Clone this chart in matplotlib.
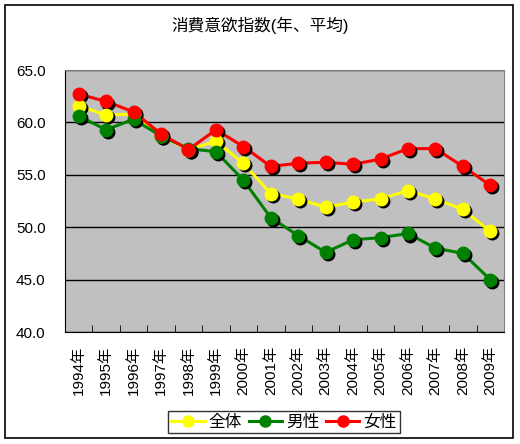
import matplotlib
matplotlib.use("Agg")
import matplotlib.pyplot as plt
import matplotlib.transforms as mtransforms
from matplotlib.patches import Rectangle

plt.rcParams['font.family'] = ['Liberation Sans', 'Noto Sans CJK JP', 'DejaVu Sans']

years = ["1994年", "1995年", "1996年", "1997年", "1998年", "1999年", "2000年", "2001年",
         "2002年", "2003年", "2004年", "2005年", "2006年", "2007年", "2008年", "2009年"]
zentai = [61.6, 60.7, 60.8, 58.7, 57.4, 58.2, 56.1, 53.2,
          52.7, 51.9, 52.4, 52.7, 53.5, 52.7, 51.7, 49.6]
dansei = [60.6, 59.3, 60.3, 58.7, 57.5, 57.2, 54.5, 50.9,
          49.2, 47.6, 48.8, 49.0, 49.4, 48.0, 47.5, 45.0]
josei = [62.7, 62.0, 61.0, 58.9, 57.4, 59.3, 57.7, 55.8,
         56.1, 56.2, 56.0, 56.5, 57.5, 57.5, 55.8, 54.0]
series_names = ["全体", "男性", "女性"]
series_colors = ["#ffff00", "#008000", "#ff0000"]
yticks = [40, 45, 50, 55, 60, 65]

fig = plt.figure(figsize=(5.2, 4.44), dpi=100)
W, H = 520, 444
ax = fig.add_axes([65 / W, 1 - 332 / H, (504 - 65) / W, (332 - 70) / H])
ax.set_facecolor("#c0c0c0")

# outer frame
fig.patches.append(Rectangle((5 / W, 1 - 438 / H), (513 - 5) / W, (438 - 5) / H,
                             transform=fig.transFigure, fill=False,
                             edgecolor="black", linewidth=1.2))

x = list(range(len(years)))
shadow = ax.transData + mtransforms.ScaledTranslation(1.5 / 72, -1.5 / 72, fig.dpi_scale_trans)
handles = []
for vals, name, col in zip([zentai, dansei, josei], series_names, series_colors):
    ax.plot(x, vals, color=col, linewidth=2.2, zorder=3)
    ax.plot(x, vals, linestyle="none", marker="o", markersize=9,
            color="black", transform=shadow, zorder=3)
    ax.plot(x, vals, linestyle="none", marker="o", markersize=9,
            color=col, zorder=4)
    h, = ax.plot([], [], color=col, linewidth=2.2, marker="o", markersize=8, label=name)
    handles.append(h)

ax.set_xlim(-0.5, len(years) - 0.5)
ax.set_ylim(40, 65)
ax.set_yticks(yticks)
ax.set_yticklabels([f"{v:.1f}" for v in yticks], fontsize=11)
ax.yaxis.grid(True, color="black", linewidth=1)
ax.set_axisbelow(True)

ax.set_xticks(x)
ax.set_xticklabels(years, rotation=90, fontsize=11)
ax.tick_params(axis="x", length=0, pad=10)
ax.set_xticks([i + 0.5 for i in x[:-1]], minor=True)
ax.tick_params(axis="x", which="minor", direction="in", length=5, color="black")
ax.tick_params(axis="y", length=0, pad=14)

ax.spines["top"].set_color("#808080")
ax.spines["right"].set_color("#808080")
ax.spines["left"].set_color("black")
ax.spines["bottom"].set_color("black")

fig.text(0.5, 1 - 25 / H, "消費意欲指数(年、平均)", ha="center", va="center", fontsize=12)

leg = fig.legend(handles=handles, loc="center", bbox_to_anchor=(284 / W, 1 - 422 / H),
                 ncol=3, frameon=True, fancybox=False, edgecolor="black",
                 fontsize=12, handlelength=2.0, columnspacing=0.4, handletextpad=0.25,
                 borderpad=0.2, borderaxespad=0)
leg.get_frame().set_linewidth(1)

fig.savefig("out.png", dpi=100)
